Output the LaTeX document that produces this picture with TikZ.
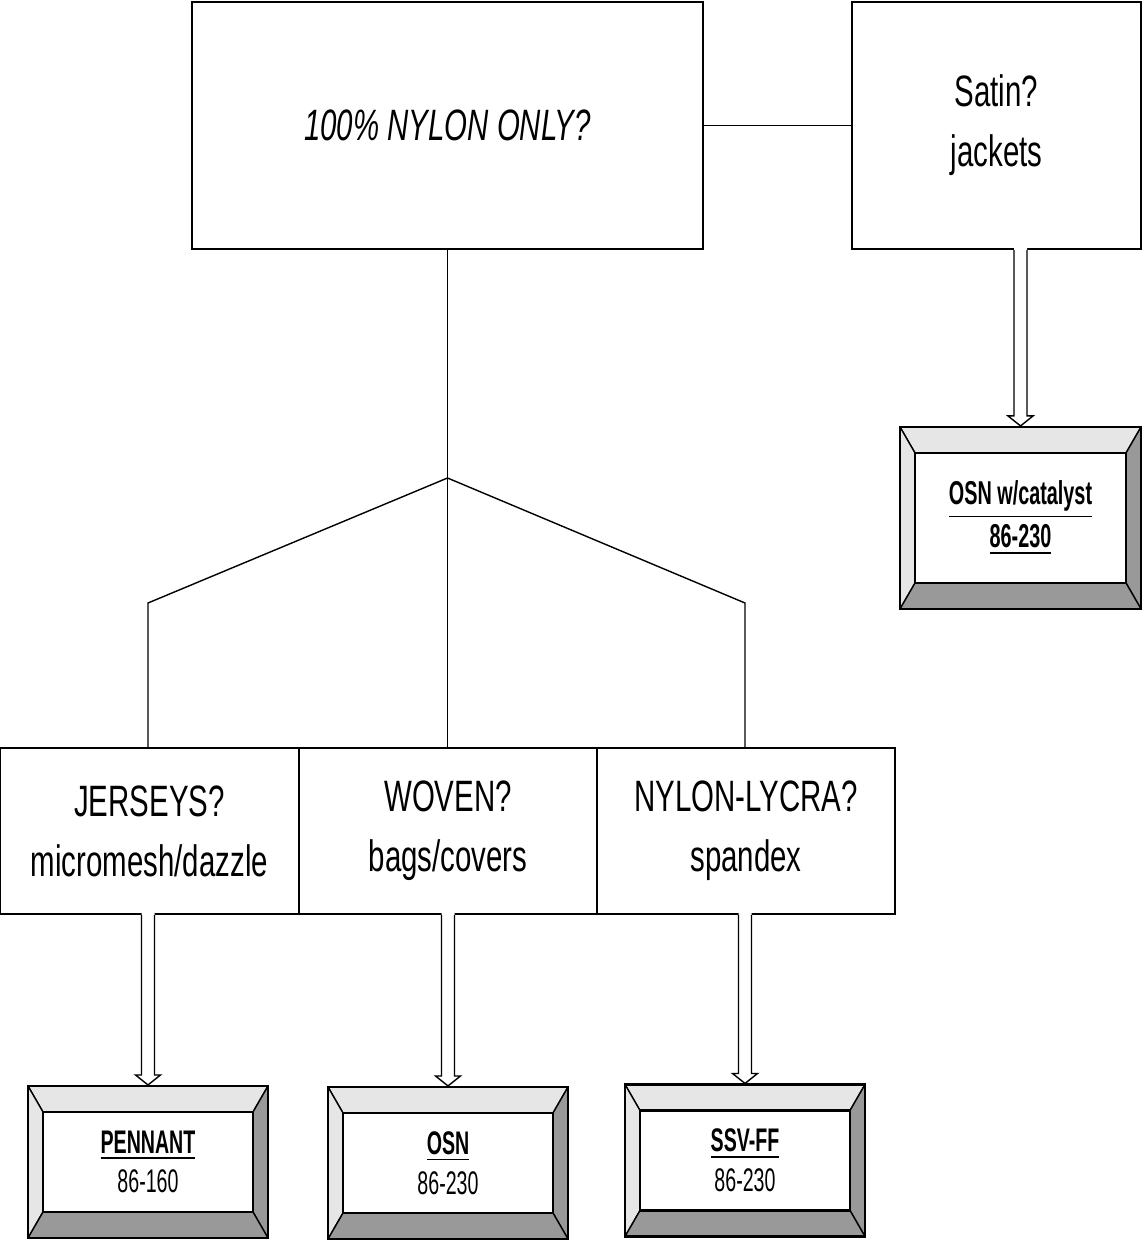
\documentclass[tikz,border=0pt]{standalone}
\usepackage{fontspec}
\setmainfont{Liberation Sans}[FakeStretch=0.67]
\newfontfamily\platefont{Liberation Sans}[FakeStretch=0.6]
\usetikzlibrary{calc}

\definecolor{rimlight}{HTML}{E6E6E6}
\definecolor{rimdark}{HTML}{999999}

% hollow arrow from a box bottom (#1) to the tip (#2)
\newcommand{\hollowarrow}[2]{%
  \fill[white] ([xshift=-.065cm,yshift=.03cm]#1) -- ([xshift=-.065cm,yshift=.1cm]#2)
    -- ([xshift=-.125cm,yshift=.1cm]#2) -- (#2) -- ([xshift=.125cm,yshift=.1cm]#2)
    -- ([xshift=.065cm,yshift=.1cm]#2) -- ([xshift=.065cm,yshift=.03cm]#1) -- cycle;
  \draw[line width=.4pt] ([xshift=-.065cm]#1) -- ([xshift=-.065cm,yshift=.1cm]#2)
    -- ([xshift=-.125cm,yshift=.1cm]#2) -- (#2) -- ([xshift=.125cm,yshift=.1cm]#2)
    -- ([xshift=.065cm,yshift=.1cm]#2) -- ([xshift=.065cm]#1);
}

\tikzset{
  box/.style={draw, line width=.6pt, align=center, inner sep=0pt,
    font=\fontsize{12.5}{17}\selectfont},
  plate/.style={draw, line width=.6pt, align=center, inner sep=0pt,
    minimum width=2.4cm, minimum height=1.52cm,
    font=\platefont\fontsize{9.3}{11.3}\selectfont,
    path picture={
      \coordinate (o1) at (path picture bounding box.north west);
      \coordinate (o2) at (path picture bounding box.north east);
      \coordinate (o3) at (path picture bounding box.south east);
      \coordinate (o4) at (path picture bounding box.south west);
      \coordinate (i1) at ([shift={(.15,-.26)}]o1);
      \coordinate (i2) at ([shift={(-.15,-.26)}]o2);
      \coordinate (i3) at ([shift={(-.15,.26)}]o3);
      \coordinate (i4) at ([shift={(.15,.26)}]o4);
      \filldraw[fill=rimlight, line width=.4pt] (o1)--(o2)--(i2)--(i1)--cycle;
      \filldraw[fill=rimlight, line width=.4pt] (o1)--(i1)--(i4)--(o4)--cycle;
      \filldraw[fill=rimdark, line width=.4pt] (o2)--(o3)--(i3)--(i2)--cycle;
      \filldraw[fill=rimdark, line width=.4pt] (o4)--(o3)--(i3)--(i4)--cycle;
      \draw[fill=white, line width=.6pt] (i1) rectangle (i3);
    }},
  link/.style={line width=.4pt}
}

\begin{document}
\begin{tikzpicture}[line join=miter]
\useasboundingbox (0,0) rectangle (11.43,-12.42);

% question boxes
\node[box, minimum width=5.11cm, minimum height=2.47cm, font=\fontsize{12.5}{17}\selectfont\itshape]
  (nylon) at (4.475,-1.255) {100\% NYLON ONLY?};
\node[box, minimum width=2.89cm, minimum height=2.47cm] (satin) at (9.965,-1.255) {Satin?\\jackets};
\node[box, minimum width=2.99cm, minimum height=1.66cm] (jersey) at (1.495,-8.31) {JERSEYS?\\micromesh/dazzle};
\node[box, minimum width=2.98cm, minimum height=1.66cm] (woven) at (4.48,-8.31) {WOVEN?\\bags/covers};
\node[box, minimum width=2.98cm, minimum height=1.66cm] (lycra) at (7.46,-8.31) {NYLON-LYCRA?\\spandex};

% product plates
\node[plate] (pennant) at (1.48,-11.62) {\textbf{\underline{PENNANT}}\\86-160};
\node[plate] (osn) at (4.48,-11.63) {\textbf{\underline{OSN}}\\86-230};
\node[plate] (ssvff) at (7.45,-11.605) {\textbf{\underline{SSV-FF}}\\86-230};
\node[plate, minimum width=2.41cm, minimum height=1.82cm, font=\platefont\fontsize{9.4}{12.2}\selectfont]
  (catal) at (10.205,-5.18) {\textbf{\underline{OSN w/catalyst}}\\\textbf{\underline{86-230}}};

% tree lines
\coordinate (fork) at (nylon.south |- 0,-4.78);
\coordinate (kl) at (1.48,-6.03);
\coordinate (kr) at (7.45,-6.03);
\draw[link] (nylon.east) -- (satin.west);
\draw[link] (nylon.south) -- (fork);
\draw[link] (fork) -- (kl) -- (kl |- jersey.north);
\draw[link] (fork) -- (kr) -- (kr |- lycra.north);
\draw[link] (fork) -- (fork |- woven.north);

% hollow arrows
\coordinate (a1) at (jersey.south -| pennant.north);
\coordinate (a2) at (woven.south -| osn.north);
\coordinate (a3) at (lycra.south -| ssvff.north);
\coordinate (a4) at (satin.south -| catal.north);
\hollowarrow{a1}{pennant.north}
\hollowarrow{a2}{osn.north}
\hollowarrow{a3}{ssvff.north}
\hollowarrow{a4}{catal.north}
\end{tikzpicture}
\end{document}
